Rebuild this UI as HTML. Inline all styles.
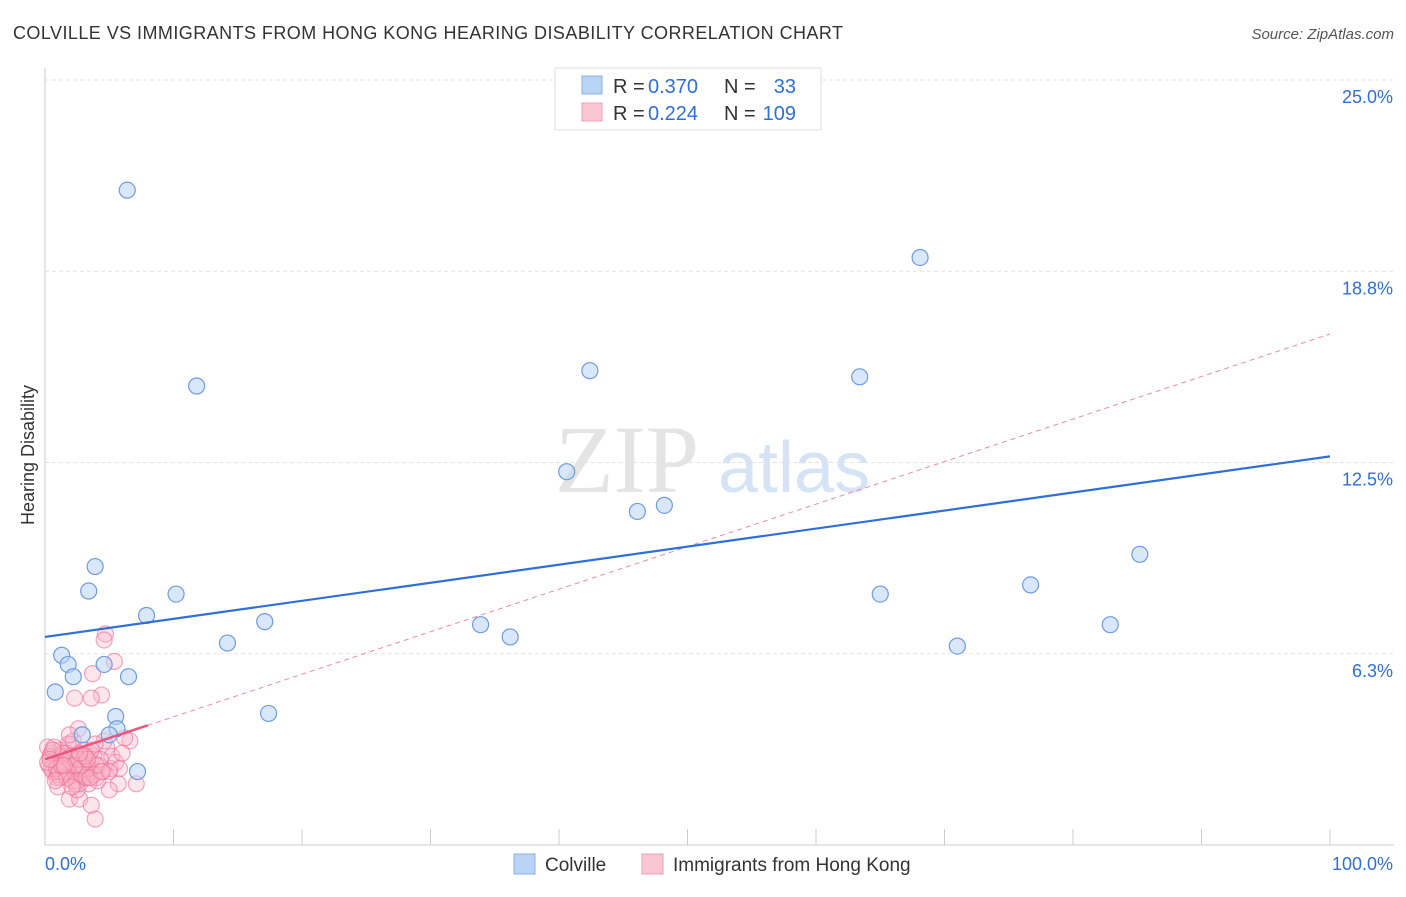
<!DOCTYPE html>
<html><head><meta charset="utf-8">
<style>
body{margin:0;background:#fff;font-family:"Liberation Sans",sans-serif;}
#wrap{position:relative;width:1406px;height:892px;}
</style></head>
<body>
<div id="wrap">
<svg id="chart" width="1406" height="892">
<text x="13" y="39" font-size="18" fill="#333" textLength="830" lengthAdjust="spacing">COLVILLE VS IMMIGRANTS FROM HONG KONG HEARING DISABILITY CORRELATION CHART</text>
<text x="1394" y="39" font-size="15" fill="#555" font-style="italic" text-anchor="end">Source: ZipAtlas.com</text>
<text x="34" y="455" font-size="18" fill="#333" transform="rotate(-90 34 455)" text-anchor="middle">Hearing Disability</text>
<text x="555" y="492" font-size="96" fill="#e4e4e4" font-family="Liberation Serif,serif">ZIP</text>
<text x="718" y="492" font-size="72" fill="#d6e3f5">atlas</text>
<g id="grid"></g><g id="axes"></g><g id="pink"></g><g id="blue"></g><g id="trend"></g>
<g>
<rect x="555" y="68" width="266" height="62" fill="#fff" stroke="#ddd"/>
<rect x="582" y="76" width="20" height="18" fill="#b9d3f5" stroke="#8ab0e6"/>
<rect x="582" y="103" width="20" height="18" fill="#f8c6d4" stroke="#f0a0b8"/>
<text x="613" y="93" font-size="20" fill="#333">R =</text>
<text x="648" y="93" font-size="20" fill="#2f6fd6">0.370</text>
<text x="724" y="93" font-size="20" fill="#333">N =</text>
<text x="796" y="93" font-size="20" fill="#2f6fd6" text-anchor="end">33</text>
<text x="613" y="120" font-size="20" fill="#333">R =</text>
<text x="648" y="120" font-size="20" fill="#2f6fd6">0.224</text>
<text x="724" y="120" font-size="20" fill="#333">N =</text>
<text x="796" y="120" font-size="20" fill="#2f6fd6" text-anchor="end">109</text>
</g>
<g>
<rect x="514" y="854" width="21" height="20" fill="#b9d3f5" stroke="#8ab0e6"/>
<text x="545" y="871" font-size="19" fill="#333">Colville</text>
<rect x="642" y="854" width="21" height="20" fill="#f8c6d4" stroke="#f0a0b8"/>
<text x="673" y="871" font-size="19" fill="#333">Immigrants from Hong Kong</text>
</g>
</svg>
</div>
<script>
const yTicks=[6.25,12.5,18.75,25];
const yTickLabels=["6.3%","12.5%","18.8%","25.0%"];
const xTickLabels=["0.0%","100.0%"];
const blueX=[6.4,11.8,3.9,3.4,10.2,7.9,1.3,1.8,2.2,4.6,6.5,0.8,5.5,5.6,2.9,7.2,14.2,17.1,17.4,40.6,42.4,46.1,48.2,33.9,36.2,63.4,68.1,65.0,71.0,76.7,82.9,85.2,5.0];
const blueY=[21.4,15.0,9.1,8.3,8.2,7.5,6.2,5.9,5.5,5.9,5.5,5.0,4.2,3.8,3.6,2.4,6.6,7.3,4.3,12.2,15.5,10.9,11.1,7.2,6.8,15.3,19.2,8.2,6.5,8.5,7.2,9.5,3.6];
const pinkX=[4.7,4.6,5.4,3.7,4.4,2.3,3.6,2.6,3.9,1.9,2.7,3.6,7.1,5.7,5.0,5.1,6.6,0.2,0.5,0.8,1.0,1.2,1.4,1.6,1.8,2.0,2.2,2.4,2.6,2.8,3.0,3.2,3.4,3.6,3.8,4.0,0.3,0.6,0.9,1.1,1.3,1.5,1.7,1.9,2.1,2.3,2.5,2.7,2.9,3.1,3.3,3.5,0.4,0.7,1.0,1.5,2.0,2.5,3.0,3.5,4.2,4.5,4.8,5.2,5.5,0.5,1.2,1.8,2.4,3.0,3.6,4.3,1.0,1.6,2.2,2.8,3.4,0.2,0.9,1.4,2.6,3.2,4.0,4.6,5.8,6.2,1.1,2.0,2.9,3.8,0.6,1.7,2.3,3.1,4.1,5.0,2.5,3.3,1.3,0.8,1.9,2.7,3.5,4.4,6.0,0.4,1.5,2.1,3.9];
const pinkY=[6.9,6.7,6.0,5.6,4.9,4.8,4.8,3.8,0.85,1.5,1.5,1.3,2.0,2.0,1.8,2.5,3.4,3.2,3.0,2.8,2.6,3.1,2.9,2.7,2.5,3.3,2.8,2.6,2.4,2.9,3.1,2.5,2.3,2.7,2.9,2.2,2.6,2.4,2.2,2.9,2.7,2.5,3.0,2.3,2.1,2.6,2.8,2.0,2.4,2.2,2.7,2.5,2.9,3.2,2.3,2.4,2.6,2.1,2.8,3.0,2.6,2.4,3.2,2.9,2.7,2.5,2.2,3.3,2.0,2.5,3.1,2.8,1.9,2.7,3.4,2.3,2.0,2.7,2.5,3.0,2.8,2.2,2.6,3.4,2.5,3.5,2.4,2.9,2.6,2.3,3.1,2.2,2.6,2.9,2.1,2.4,1.8,2.8,2.6,2.1,3.6,3.0,2.2,2.4,3.0,2.8,2.6,1.9,3.3];
const blueTrend=[6.8,12.7];
const pinkTrend=[2.8,16.7];
const pinkSolidEnd=8;
const NS="http://www.w3.org/2000/svg";
const X0=45,X1=1330,Y0=845,Y25=80;
const sx=v=>X0+(X1-X0)*v/100;
const sy=v=>Y0-(Y0-Y25)*v/25;
function mk(tag,attrs,parent){const e=document.createElementNS(NS,tag);for(const k in attrs)e.setAttribute(k,attrs[k]);parent.appendChild(e);return e;}
const grid=document.getElementById('grid'),axes=document.getElementById('axes');
yTicks.forEach((t,i)=>{
 const l=mk('line',{x1:X0,x2:1394,y1:sy(t),y2:sy(t),stroke:'#e3e3e3','stroke-dasharray':'4,3'},grid);
 
 
 const tx=mk('text',{x:1393,y:sy(t)+23,'font-size':18,fill:'#2f6fd6','text-anchor':'end'},axes);
 tx.textContent=yTickLabels[i];
 
 
});
const ya=mk('line',{x1:X0,x2:X0,y1:68,y2:Y0,stroke:'#ccc'},axes);


const xa=mk('line',{x1:X0,x2:1394,y1:Y0,y2:Y0,stroke:'#ccc'},axes);


for(let i=1;i<=10;i++){const t=mk('line',{x1:sx(i*10),x2:sx(i*10),y1:829,y2:Y0,stroke:'#ccc'},axes);
 
 }
[[0,'start',X0],[1,'end',1393]].forEach(([i,a,x])=>{const t=mk('text',{x:x,y:870,'font-size':18,fill:'#2f6fd6','text-anchor':a},axes);t.textContent=xTickLabels[i];
 
 });
const pg=document.getElementById('pink');
pinkX.forEach((x,i)=>{const c=mk('circle',{cx:sx(x),cy:sy(pinkY[i]),r:8,fill:'rgba(248,180,200,0.35)',stroke:'rgba(235,110,150,0.6)','stroke-width':1.2},pg);
 
 });
const bg=document.getElementById('blue');
blueX.forEach((x,i)=>{const c=mk('circle',{cx:sx(x),cy:sy(blueY[i]),r:8,fill:'rgba(185,211,245,0.55)',stroke:'#6f9be0','stroke-width':1.2},bg);
 
 });
const tg=document.getElementById('trend');
const pd=mk('line',{x1:sx(0),y1:sy(pinkTrend[0]),x2:sx(100),y2:sy(pinkTrend[1]),stroke:'#eb8aa8','stroke-width':1,'stroke-dasharray':'5,4'},tg);


const pe=pinkTrend[0]+(pinkTrend[1]-pinkTrend[0])*pinkSolidEnd/100;
const ps=mk('line',{x1:sx(0),y1:sy(pinkTrend[0]),x2:sx(pinkSolidEnd),y2:sy(pe),stroke:'#e9577f','stroke-width':2.5},tg);


const bl=mk('line',{x1:sx(0),y1:sy(blueTrend[0]),x2:sx(100),y2:sy(blueTrend[1]),stroke:'#2f6fd6','stroke-width':2.2},tg);


</script>
</body></html>
